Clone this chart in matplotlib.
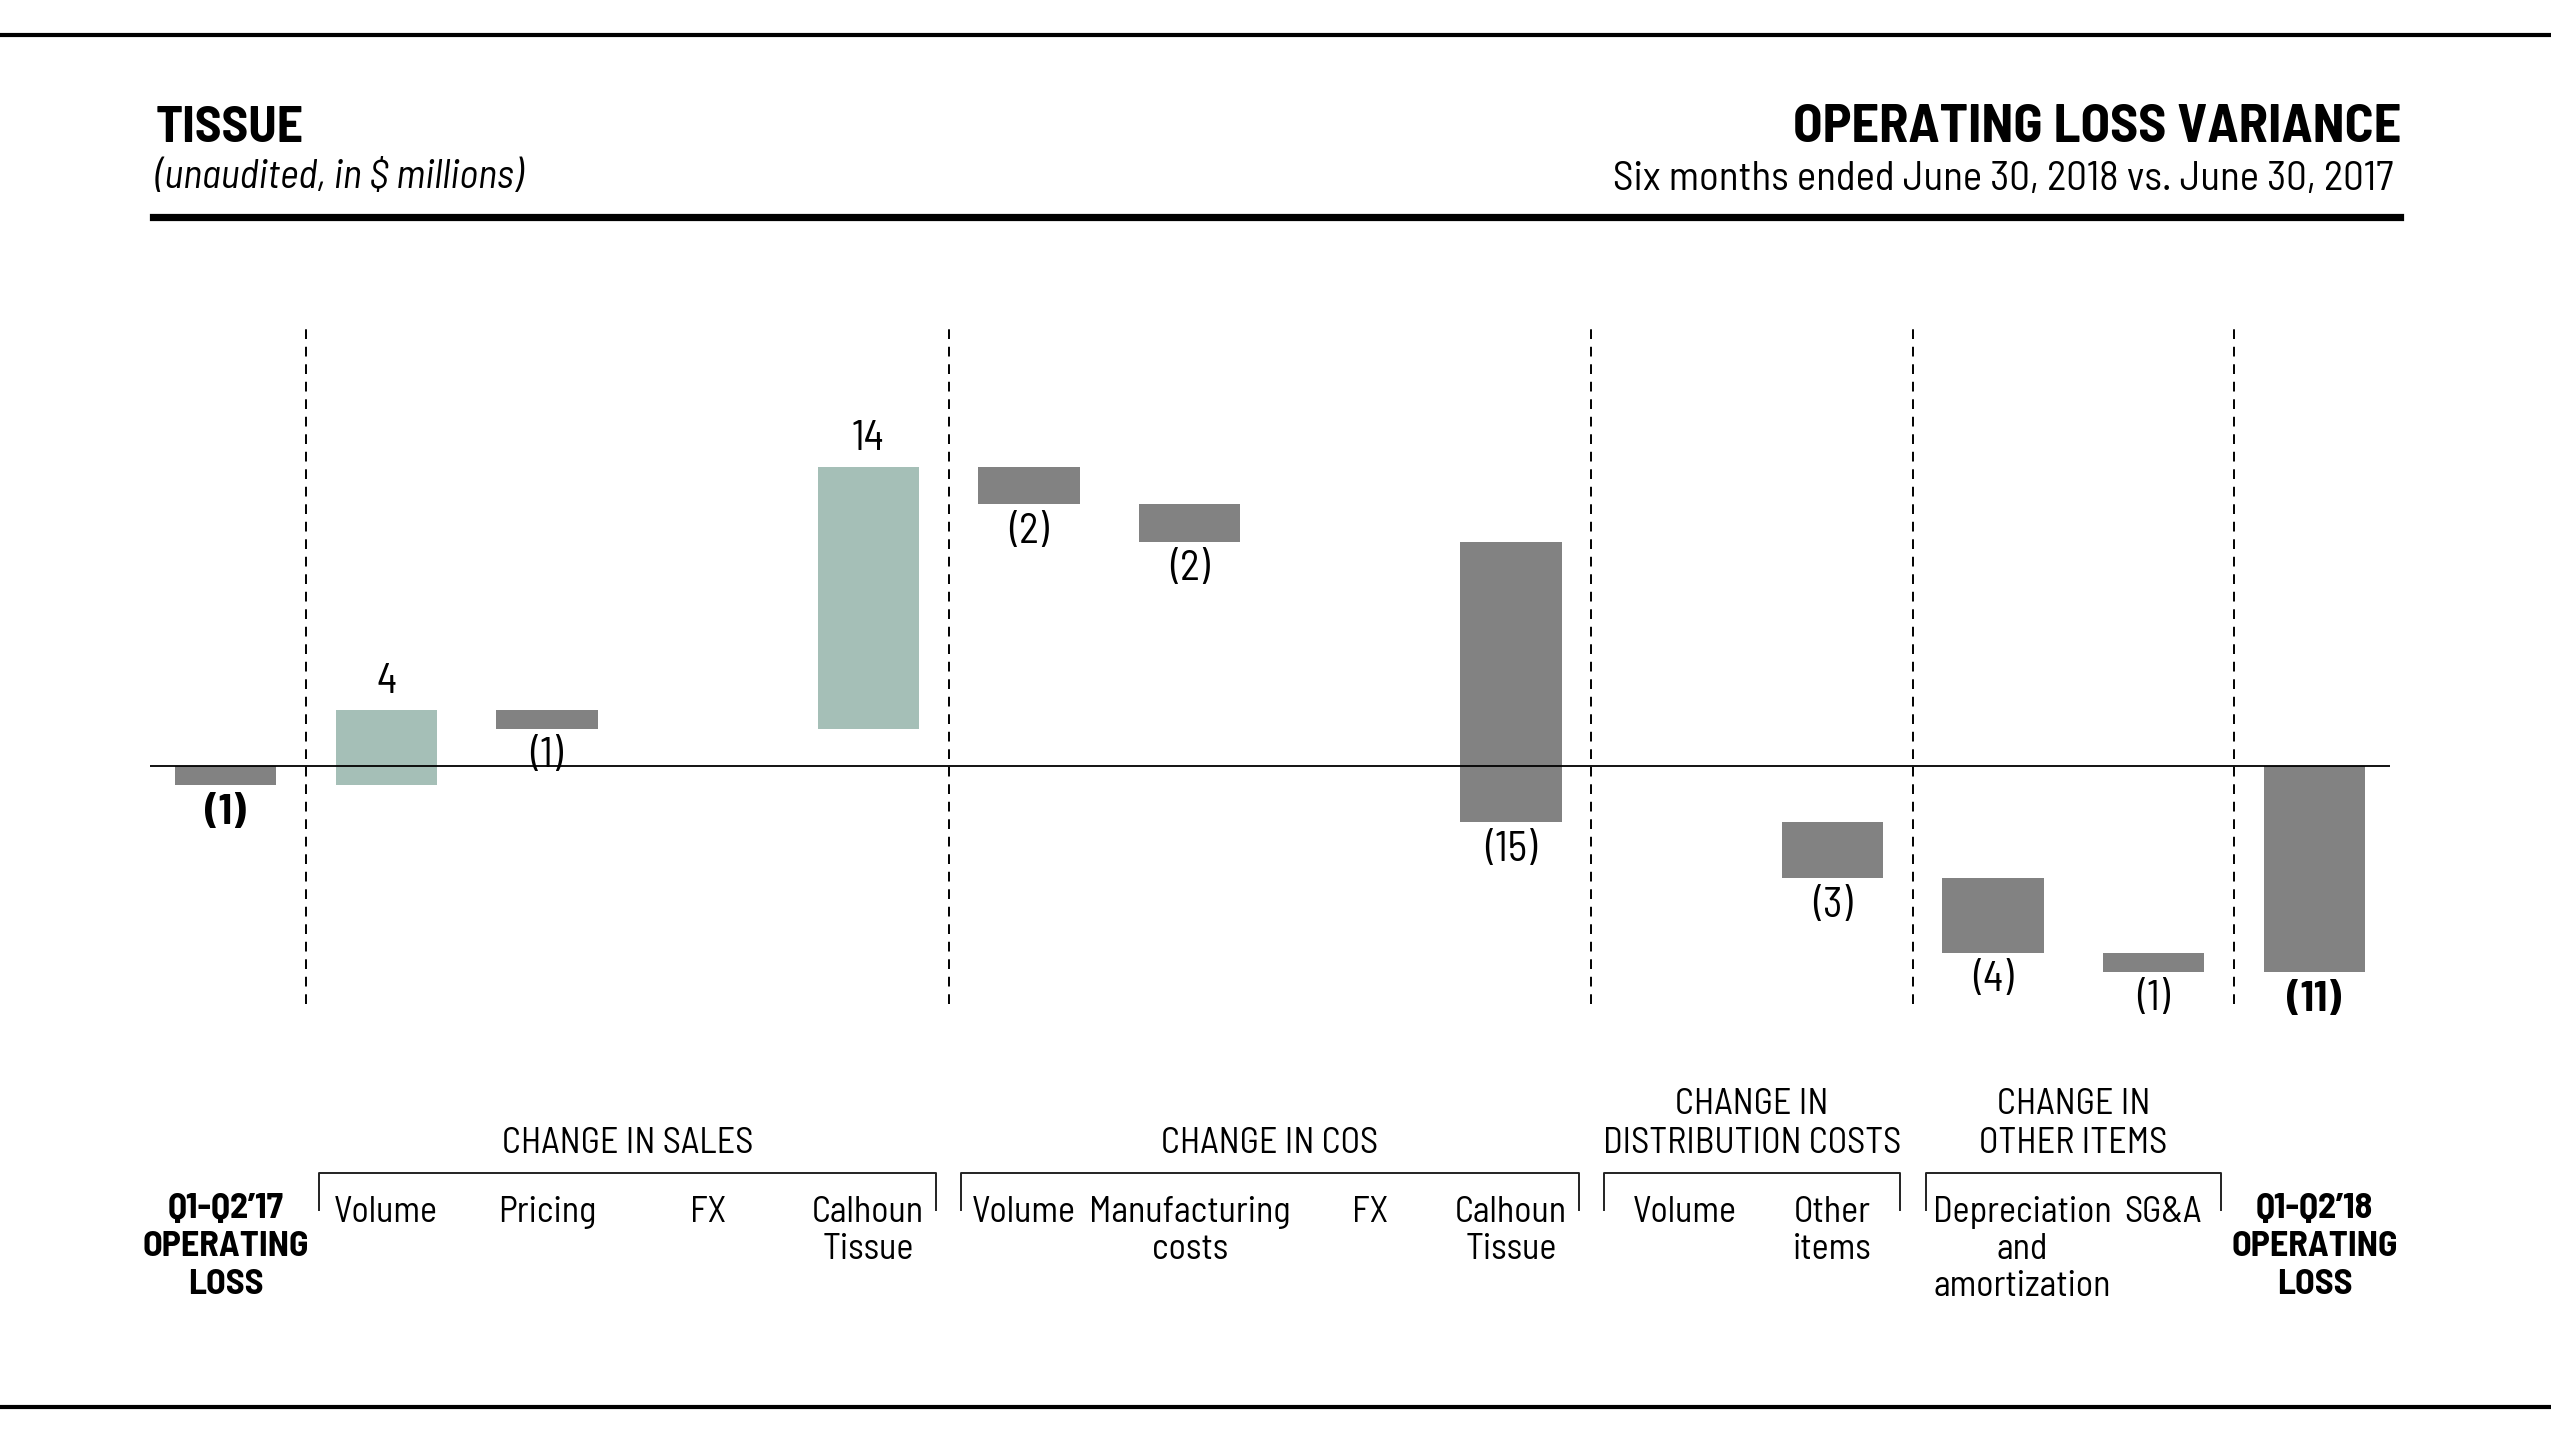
import matplotlib
matplotlib.use("Agg")
import matplotlib.pyplot as plt
import matplotlib.transforms as mtransforms
from matplotlib.lines import Line2D

plt.rcParams['font.family'] = ['Barlow Semi Condensed', 'Roboto', 'DejaVu Sans']

# data
categories = ["Q1-Q2\u201917\nOPERATING\nLOSS", "Volume", "Pricing", "FX", "Calhoun\nTissue",
              "Volume", "Manufacturing\ncosts", "FX", "Calhoun\nTissue",
              "Volume", "Other\nitems", "Depreciation\nand\namortization", "SG&A",
              "Q1-Q2\u201918\nOPERATING\nLOSS"]
changes = [-1, 4, -1, 0, 14, -2, -2, 0, -15, 0, -3, -4, -1, -11]
is_total = [True] + [False] * 12 + [True]
groups = [("CHANGE IN SALES", 1, 4), ("CHANGE IN COS", 5, 8),
          ("CHANGE IN\nDISTRIBUTION COSTS", 9, 10), ("CHANGE IN\nOTHER ITEMS", 11, 12)]
separators = [0.5, 4.5, 8.5, 10.5, 12.5]

GREEN = "#a5bfb7"
GREY = "#828282"

W, H = 2551, 1434
fig = plt.figure(figsize=(W / 100, H / 100), dpi=100)

def fy(px):
    return 1 - px / H

def fx(px):
    return px / W

ax = fig.add_axes([fx(150), fy(1028), fx(2390) - fx(150), fy(298.5) - fy(1028)])
ax.set_xlim(-0.47, 13.47)
ax.set_ylim(-14, 25)
ax.axis("off")

# waterfall bars
running = 0
for i, (v, tot) in enumerate(zip(changes, is_total)):
    if tot:
        bottom, height = 0, v
        running = v
    else:
        bottom, height = running, v
        running += v
    if v == 0:
        continue
    color = GREY if (tot or v < 0) else GREEN
    ax.bar(i, height, bottom=bottom, width=0.63, color=color, zorder=2)
    lab = f"({abs(v)})" if v < 0 else f"{v}"
    edge = min(bottom, bottom + height) if v < 0 else max(bottom, bottom + height)
    off = -20 if v < 0 else 20
    ax.annotate(lab, (i, edge), xytext=(0, off), textcoords="offset points",
                ha="center", va="center", fontsize=30,
                fontweight="bold" if tot else "normal")

ax.axhline(0, color="black", lw=1.3, zorder=3)
ax.vlines(separators, -12.7, 23.6, colors="black", lw=1.4,
          linestyles=(0, (5, 4)), zorder=1)

# category labels below
bt = mtransforms.blended_transform_factory(ax.transData, fig.transFigure)
nudge = {5: -0.03, 7: 0.12, 9: 0.08, 11: 0.18, 12: 0.06}
for i, (c, tot) in enumerate(zip(categories, is_total)):
    ax.text(i + nudge.get(i, 0), fy(1193 if tot else 1196), c, transform=bt,
            ha="center", va="top",
            fontsize=26, linespacing=1.25 if tot else 1.16,
            fontweight="bold" if tot else "normal", clip_on=False)

for name, a, b in groups:
    ax.text((a + b) / 2, fy(1160), name, transform=bt, ha="center", va="bottom",
            fontsize=26, linespacing=1.22, clip_on=False)
    x0, x1 = a - 0.42, b + 0.42
    ax.add_line(Line2D([x0, x0, x1, x1], [fy(1210), fy(1173), fy(1173), fy(1210)],
                       transform=bt, color="#222222", lw=1.4, clip_on=False))

# header
fig.add_artist(Line2D([0, 1], [fy(35), fy(35)], color="black", lw=3))
fig.add_artist(Line2D([0, 1], [fy(1407), fy(1407)], color="black", lw=3))
fig.add_artist(Line2D([fx(153), fx(2400)], [fy(216.5), fy(216.5)], color="black", lw=5.2))
fig.text(fx(156), fy(142), "TISSUE", fontsize=37, fontweight="bold", va="baseline")
fig.text(fx(155), fy(178), "(unaudited, in $ millions)", fontsize=29,
         style="italic", va="center")
fig.text(fx(2401), fy(142), "OPERATING LOSS VARIANCE", fontsize=39,
         fontweight="bold", va="baseline", ha="right")
fig.text(fx(2393), fy(190), "Six months ended June 30, 2018 vs. June 30, 2017",
         fontsize=29.5, va="baseline", ha="right")

fig.savefig("out.png", dpi=100, facecolor="white")
